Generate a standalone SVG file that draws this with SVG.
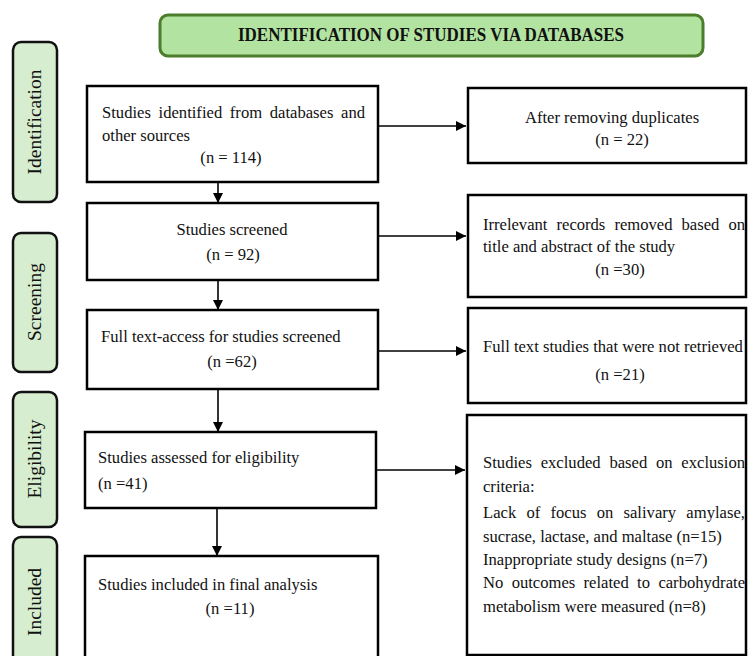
<svg xmlns="http://www.w3.org/2000/svg" width="749" height="656" viewBox="0 0 749 656">
<style>
  .box { fill: #ffffff; stroke: #000000; stroke-width: 2.5; }
  .side { fill: #d7edcf; stroke: #111111; stroke-width: 2.5; }
  .t { font-family: "Liberation Serif", "Times New Roman", serif; font-size: 16.6px; fill: #111111; }
  .s { font-family: "Liberation Serif", "Times New Roman", serif; font-size: 19.5px; fill: #111111; text-anchor: middle; }
  .c { text-anchor: middle; }
  .conn { stroke: #000000; stroke-width: 1.6; fill: none; }
</style>
<defs>
  <marker id="ah" viewBox="0 0 10 10" refX="10" refY="5" markerWidth="10" markerHeight="10" markerUnits="userSpaceOnUse" orient="auto">
    <path d="M0,0 L10,5 L0,10 Z" fill="#000000"/>
  </marker>
</defs>
<rect width="749" height="656" fill="#ffffff"/>

<g id="banner">
  <rect x="160" y="15" width="543" height="41" rx="8" fill="#b3e3a1" stroke="#4b7d2b" stroke-width="3"/>
  <text x="431" y="41" text-anchor="middle" font-family="Liberation Serif, Times New Roman, serif" font-size="18" font-weight="bold" fill="#111111" textLength="386" lengthAdjust="spacingAndGlyphs">IDENTIFICATION OF STUDIES VIA DATABASES</text>
</g>

<g id="side-identification">
  <rect x="13" y="42" width="44" height="160" rx="8" class="side"/>
  <text class="s" transform="translate(41,122) rotate(-90)">Identification</text>
</g>
<g id="side-screening">
  <rect x="13" y="233" width="44" height="139" rx="8" class="side"/>
  <text class="s" transform="translate(41,302) rotate(-90)">Screening</text>
</g>
<g id="side-eligibility">
  <rect x="13" y="392" width="44" height="135" rx="8" class="side"/>
  <text class="s" transform="translate(41,459) rotate(-90)">Eligibility</text>
</g>
<g id="side-included">
  <rect x="13" y="537" width="44" height="135" rx="8" class="side"/>
  <text class="s" transform="translate(41,602) rotate(-90)">Included</text>
</g>

<g id="connectors">
  <line class="conn" x1="218" y1="182" x2="218" y2="203" marker-end="url(#ah)"/>
  <line class="conn" x1="218" y1="280" x2="218" y2="310" marker-end="url(#ah)"/>
  <line class="conn" x1="218" y1="389" x2="218" y2="432" marker-end="url(#ah)"/>
  <line class="conn" x1="217" y1="508" x2="217" y2="556" marker-end="url(#ah)"/>
  <line class="conn" x1="378" y1="126" x2="466" y2="126" marker-end="url(#ah)"/>
  <line class="conn" x1="378" y1="236" x2="466" y2="236" marker-end="url(#ah)"/>
  <line class="conn" x1="378" y1="351" x2="466" y2="351" marker-end="url(#ah)"/>
  <line class="conn" x1="376" y1="470" x2="465" y2="470" marker-end="url(#ah)"/>
</g>

<g id="identified">
  <rect x="87" y="86" width="291" height="96" class="box"/>
  <text class="t" x="102" y="118" word-spacing="3.5" textLength="263" lengthAdjust="spacing">Studies identified from databases and</text>
  <text class="t" x="102" y="141">other sources</text>
  <text class="t c" x="231" y="163">(n = 114)</text>
</g>

<g id="screened">
  <rect x="87" y="203" width="291" height="77" class="box"/>
  <text class="t c" x="232" y="235">Studies screened</text>
  <text class="t c" x="233" y="260">(n = 92)</text>
</g>

<g id="fulltext">
  <rect x="87" y="310" width="291" height="79" class="box"/>
  <text class="t" x="101" y="342">Full text-access for studies screened</text>
  <text class="t c" x="232" y="367">(n =62)</text>
</g>

<g id="assessed">
  <rect x="85" y="432" width="291" height="76" class="box"/>
  <text class="t" x="98" y="463">Studies assessed for eligibility</text>
  <text class="t" x="98" y="489">(n =41)</text>
</g>

<g id="included">
  <rect x="85" y="556" width="293" height="110" class="box"/>
  <text class="t" x="98" y="590">Studies included in final analysis</text>
  <text class="t c" x="230" y="614">(n =11)</text>
</g>

<g id="duplicates">
  <rect x="468" y="88" width="278" height="75" class="box"/>
  <text class="t c" x="612" y="123">After removing duplicates</text>
  <text class="t c" x="622" y="145">(n = 22)</text>
</g>

<g id="irrelevant">
  <rect x="468" y="195" width="278" height="102" class="box"/>
  <text class="t" x="483" y="230" word-spacing="5" textLength="262" lengthAdjust="spacing">Irrelevant records removed based on</text>
  <text class="t" x="483" y="252">title and abstract of the study</text>
  <text class="t c" x="620" y="275">(n =30)</text>
</g>

<g id="notretrieved">
  <rect x="468" y="308" width="278" height="95" class="box"/>
  <text class="t" x="483" y="352">Full text studies that were not retrieved</text>
  <text class="t c" x="620" y="380">(n =21)</text>
</g>

<g id="excluded">
  <rect x="467" y="415" width="279" height="240" class="box"/>
  <text class="t" x="483" y="468" word-spacing="4.6" textLength="262" lengthAdjust="spacing">Studies excluded based on exclusion</text>
  <text class="t" x="483" y="492">criteria:</text>
  <text class="t" x="483" y="518" word-spacing="6" textLength="262" lengthAdjust="spacing">Lack of focus on salivary amylase,</text>
  <text class="t" x="483" y="542">sucrase, lactase, and maltase (n=15)</text>
  <text class="t" x="483" y="565">Inappropriate study designs (n=7)</text>
  <text class="t" x="483" y="588" word-spacing="4.2" textLength="262" lengthAdjust="spacing">No outcomes related to carbohydrate</text>
  <text class="t" x="483" y="612">metabolism were measured (n=8)</text>
</g>
</svg>
